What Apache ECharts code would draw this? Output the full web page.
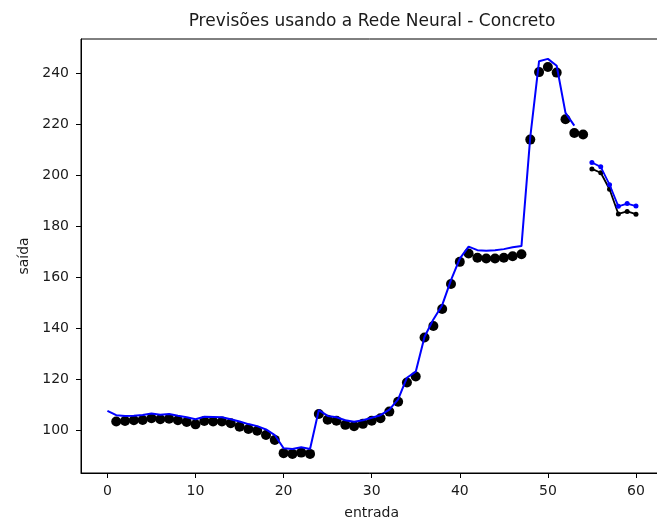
<!DOCTYPE html>
<html>
<head>
<meta charset="utf-8">
<script src="https://cdn.jsdelivr.net/npm/echarts@6/dist/echarts.min.js"></script>
<style>
  html, body { margin: 0; padding: 0; background: #ffffff; }
  #chart { width: 657px; height: 527px; }
</style>
</head>
<body>
<div id="chart"></div>
<script>
// Observed values (training part)
const trainX = [1, 2, 3, 4, 5, 6, 7, 8, 9, 10, 11, 12, 13, 14, 15, 16, 17, 18, 19, 20,
  21, 22, 23, 24, 25, 26, 27, 28, 29, 30, 31, 32, 33, 34, 35, 36, 37, 38, 39, 40,
  41, 42, 43, 44, 45, 46, 47, 48, 49, 50, 51, 52, 53, 54];
const trainActual = [103.3, 103.5, 103.8, 103.9, 104.6, 104.2, 104.4, 103.8, 103.1, 102.2,
  103.5, 103.3, 103.3, 102.6, 101.3, 100.4, 99.7, 98.0, 96.1, 90.9,
  90.6, 91.1, 90.6, 106.3, 104.0, 103.6, 102.0, 101.5, 102.4, 103.6,
  104.6, 107.2, 111.1, 118.6, 121.0, 136.3, 140.8, 147.5, 157.3, 166.0,
  169.3, 167.6, 167.3, 167.3, 167.6, 168.2, 169.0, 214.0, 240.5, 242.5,
  240.3, 222.0, 216.6, 216.0];

// Network output over the training part
const trainPredX = [0, 1, 2, 3, 4, 5, 6, 7, 8, 9, 10, 11, 12, 13, 14, 15, 16, 17, 18, 19,
  20, 21, 22, 23, 24, 25, 26, 27, 28, 29, 30, 31, 32, 33, 34, 35, 36, 37, 38, 39,
  40, 41, 42, 43, 44, 45, 46, 47, 48, 49, 50, 51, 52, 53];
const trainPred = [107.5, 105.8, 105.5, 105.6, 105.9, 106.5, 106.0, 106.3, 105.6, 105.0,
  104.2, 105.2, 105.1, 105.0, 104.2, 103.3, 102.3, 101.5, 100.2, 98.0,
  92.8, 92.5, 93.2, 92.5, 107.8, 105.5, 105.0, 103.8, 103.2, 103.8,
  104.8, 105.8, 108.0, 112.0, 120.5, 122.9, 136.6, 143.4, 149.0, 158.8,
  167.3, 172.0, 170.6, 170.4, 170.6, 171.0, 171.7, 172.2, 215.0, 244.8,
  245.7, 243.0, 224.5, 219.5];

// Test part: observed and predicted
const testX = [55, 56, 57, 58, 59, 60];
const testActual = [202.5, 201.0, 194.5, 184.8, 185.8, 184.7];
const testPred = [205.0, 203.3, 196.3, 187.8, 188.9, 187.9];

// Axis ticks
const xTicks = [0, 10, 20, 30, 40, 50, 60];
const yTicks = [100, 120, 140, 160, 180, 200, 220, 240];

const pairs = (xs, ys) => xs.map((x, i) => [x, ys[i]]);

const FONT = 'DejaVu Sans';
const TEXT = '#1a1a1a';
const BLUE = '#0000ff';

const chart = echarts.init(document.getElementById('chart'), null, { renderer: 'canvas' });

chart.setOption({
  animation: false,
  backgroundColor: '#ffffff',
  title: {
    text: 'Previsões usando a Rede Neural - Concreto',
    left: 372,
    top: 13,
    padding: 0,
    textAlign: 'center',
    textStyle: { fontFamily: FONT, fontSize: 17, fontWeight: 'normal', color: TEXT }
  },
  grid: {
    left: 81,
    top: 39,
    right: -5.4,
    bottom: 54,
    outerBoundsMode: 'none',
    show: true,
    borderColor: '#000000',
    borderWidth: 1,
    backgroundColor: 'transparent'
  },
  xAxis: {
    type: 'value',
    min: -3,
    max: 63,
    name: 'entrada',
    nameLocation: 'middle',
    nameGap: 33,
    nameTextStyle: { fontFamily: FONT, fontSize: 14, color: TEXT },
    axisLine: { show: true, onZero: false, lineStyle: { color: '#000000', width: 1 } },
    splitLine: { show: false },
    axisTick: {
      show: true, length: 5, inside: false,
      customValues: xTicks,
      lineStyle: { color: '#000000', width: 1 }
    },
    axisLabel: {
      show: true, margin: 11,
      customValues: xTicks,
      fontFamily: FONT, fontSize: 14, color: TEXT
    }
  },
  yAxis: {
    type: 'value',
    min: 83.1,
    max: 253.5,
    name: 'saída',
    nameLocation: 'middle',
    nameGap: 50,
    nameRotate: 90,
    nameTextStyle: { fontFamily: FONT, fontSize: 14, color: TEXT },
    axisLine: { show: true, onZero: false, lineStyle: { color: '#000000', width: 1 } },
    splitLine: { show: false },
    axisTick: {
      show: true, length: 5, inside: false,
      customValues: yTicks,
      lineStyle: { color: '#000000', width: 1 }
    },
    axisLabel: {
      show: true, margin: 12,
      customValues: yTicks,
      fontFamily: FONT, fontSize: 14, color: TEXT
    }
  },
  series: [
    {
      name: 'real (treino)',
      type: 'scatter',
      data: pairs(trainX, trainActual),
      symbol: 'circle',
      symbolSize: 10,
      itemStyle: { color: '#000000', opacity: 1 },
      z: 2
    },
    {
      name: 'previsão (treino)',
      type: 'line',
      data: pairs(trainPredX, trainPred),
      showSymbol: false,
      lineStyle: { color: BLUE, width: 2 },
      itemStyle: { color: BLUE },
      z: 3
    },
    {
      name: 'real (teste)',
      type: 'line',
      data: pairs(testX, testActual),
      symbol: 'circle',
      symbolSize: 5,
      showSymbol: true,
      lineStyle: { color: '#000000', width: 1.8 },
      itemStyle: { color: '#000000' },
      z: 2
    },
    {
      name: 'previsão (teste)',
      type: 'line',
      data: pairs(testX, testPred),
      symbol: 'circle',
      symbolSize: 5,
      showSymbol: true,
      lineStyle: { color: BLUE, width: 1.8 },
      itemStyle: { color: BLUE },
      z: 3
    }
  ]
});
</script>
</body>
</html>
